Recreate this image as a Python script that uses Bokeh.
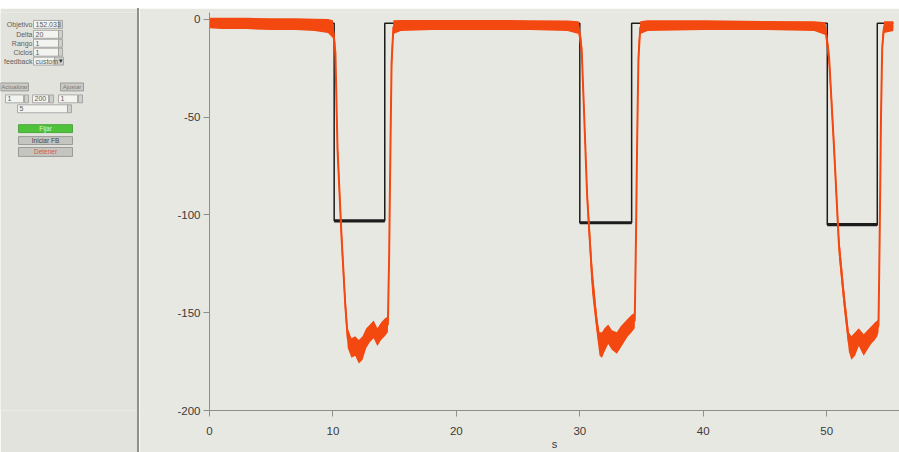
from bokeh.plotting import figure
from bokeh.layouts import row, column
from bokeh.models import Spacer, FixedTicker, Range1d, PrintfTickFormatter
from bokeh.embed import file_html
from bokeh.resources import INLINE
from bokeh.core.properties import value

# ---------------- data ----------------
# measured signal: time (s), upper and lower edge of the noisy trace
sig_t = [0.0, 1.0, 3.0, 5.0, 7.0, 8.5, 9.6, 10.0,
         10.2, 10.37, 10.7, 11.0, 11.2,
         11.5, 11.8, 12.1, 12.4, 12.7, 13.0, 13.3, 13.6, 13.9, 14.2, 14.45,
         14.55, 14.65, 14.75, 14.9,
         15.5, 18.0, 22.0, 26.0, 29.0, 29.9,
         30.15, 30.3, 30.6, 31.0, 31.4,
         31.6, 31.8, 32.0, 32.3, 32.6, 33.0, 33.3, 33.6, 33.9, 34.2, 34.45,
         34.55, 34.65, 34.75, 34.9,
         35.5, 40.0, 45.0, 49.0, 49.9,
         50.2, 50.6, 51.0, 51.4, 51.8,
         52.0, 52.3, 52.6, 53.0, 53.3, 53.6, 53.9, 54.1, 54.2,
         54.3, 54.4, 54.5, 54.65, 55.4]
sig_hi = [0.8, 0.8, 0.8, 0.6, 0.5, 0.3, 0.2, -0.5,
          -12, -60, -105, -140, -158,
          -163, -162, -164, -162, -158, -156, -154, -158, -155, -153, -152,
          -115, -60, -15, -0.5,
          -0.3, -0.3, -0.3, -0.4, -0.6, -1.0,
          -10, -35, -85, -125, -152,
          -160, -160, -158, -156, -159, -160, -157, -155, -153, -151, -150,
          -105, -50, -12, -1.0,
          -0.5, -0.5, -0.8, -1.0, -1.5,
          -15, -60, -110, -137, -160,
          -162, -160, -158, -161, -159, -157, -155, -154, -153,
          -100, -40, -8, -1.0, -1.0]
sig_lo = [-4.5, -5.0, -5.0, -5.5, -5.5, -6.0, -7.0, -9.5,
          -22, -72, -118, -152, -168,
          -173, -172, -176, -174, -168, -165, -163, -167, -164, -162, -160,
          -130, -80, -30, -7.5,
          -6.0, -5.5, -5.5, -5.5, -6.0, -7.5,
          -20, -45, -97, -140, -162,
          -172, -173, -170, -166, -169, -171, -168, -165, -162, -160, -158,
          -120, -70, -28, -7.5,
          -6.0, -5.5, -5.5, -6.0, -8.0,
          -25, -72, -122, -148, -170,
          -174, -172, -167, -172, -169, -166, -164, -162, -160,
          -115, -60, -20, -7.0, -6.0]

# set point (black step line)
sp_t = [0.0, 10.1, 10.1, 14.2, 14.2, 30.0, 30.0, 34.2, 34.2, 50.05, 50.05, 54.1, 54.1, 55.4]
sp_v = [-2, -2, -103, -103, -2, -2, -104, -104, -2, -2, -105, -105, -2, -2]

x_ticks = [0, 10, 20, 30, 40, 50]
y_ticks = [0, -50, -100, -150, -200]
x_label = "s"

# control panel texts
field_labels = ["Objetivo", "Delta", "Rango", "Ciclos", "feedback"]
field_values = ["152.033", "20", "1", "1", "custom"]
top_buttons = ["Actualizar", "Ajustar"]
row_inputs = ["1", "200", "1"]
extra_input = ["5"]
action_buttons = ["Fijar", "Iniciar FB", "Detener"]

# ---------------- styles ----------------
ORANGE = "#f3480f"
BLACK = "#1c1c1c"
PLOT_BG = "#e8e8e3"
PANEL_BG = "#e3e3de"
FONT = "Liberation Sans"

# ---------------- left control panel ----------------
# frame is aligned with the chart frame (page y 12 .. 413), so use page-y units
lp = figure(width=137, height=444, x_range=Range1d(0, 137), y_range=Range1d(413, 12),
            output_backend="svg", toolbar_location=None,
            min_border=0, background_fill_color=PANEL_BG, border_fill_color=PANEL_BG,
            outline_line_color=None)
lp.axis.visible = False
lp.grid.visible = False

fs = "7px"
row_y = [24, 34, 43, 52, 61]
lp.text(x=[32] * 5, y=row_y, text=field_labels, text_align="right", text_baseline="middle",
        text_font=value(FONT), text_font_size=fs, text_color="#606060")
box_l = [33, 33, 33, 33, 33]
box_r = [58, 58, 58, 58, 54]
box_r2 = [62, 62, 62, 62, 63]
lp.quad(left=box_l, right=box_r, top=[y - 4 for y in row_y], bottom=[y + 4 for y in row_y],
        fill_color="#f3f3f0", line_color="#9a9a9a", line_width=0.8)
lp.quad(left=box_r, right=box_r2, top=[y - 4 for y in row_y], bottom=[y + 4 for y in row_y],
        fill_color="#cfcfcb", line_color="#9a9a9a", line_width=0.8)
lp.text(x=[35] * 5, y=row_y, text=field_values, text_baseline="middle",
        text_font=value(FONT), text_font_size=fs, text_color="#606060")
lp.text(x=[58.5], y=[61], text=["\u25be"], text_baseline="middle",
        text_font=value("DejaVu Sans"), text_font_size="7px", text_color="#333333")

tb_l, tb_r = [0, 60], [28, 83]
lp.quad(left=tb_l, right=tb_r, top=[83, 83], bottom=[91, 91],
        fill_color="#c9c9c5", line_color="#8d8d8d", line_width=0.8)
lp.text(x=[(a + b) / 2 for a, b in zip(tb_l, tb_r)], y=[87, 87], text=top_buttons,
        text_align="center", text_baseline="middle", text_font=value(FONT),
        text_font_size="6px", text_color="#7a7a7a")

ri_l, ri_r = [5, 32, 58], [23, 48, 77]
lp.quad(left=ri_l, right=ri_r, top=[95] * 3, bottom=[103] * 3,
        fill_color="#f3f3f0", line_color="#9a9a9a", line_width=0.8)
lp.quad(left=[r + 1 for r in ri_r], right=[r + 5 for r in ri_r], top=[95] * 3, bottom=[103] * 3,
        fill_color="#cfcfcb", line_color="#9a9a9a", line_width=0.8)
lp.text(x=[l + 2 for l in ri_l], y=[99] * 3, text=row_inputs, text_baseline="middle",
        text_font=value(FONT), text_font_size=fs, text_color="#606060")
lp.quad(left=[17], right=[67], top=[105], bottom=[113],
        fill_color="#f3f3f0", line_color="#9a9a9a", line_width=0.8)
lp.quad(left=[67], right=[71], top=[105], bottom=[113],
        fill_color="#cfcfcb", line_color="#9a9a9a", line_width=0.8)
lp.text(x=[19], y=[109], text=extra_input, text_baseline="middle",
        text_font=value(FONT), text_font_size=fs, text_color="#606060")

ab_top = [125, 137, 148]
ab_bot = [133, 145, 157]
lp.quad(left=[18] * 3, right=[72] * 3, top=ab_top, bottom=ab_bot,
        fill_color=["#4ec23b", "#c4c4c0", "#c4c4c0"],
        line_color=["#3c9a2c", "#8d8d8d", "#8d8d8d"], line_width=0.8)
lp.text(x=[45] * 3, y=[(a + b) / 2 for a, b in zip(ab_top, ab_bot)], text=action_buttons,
        text_align="center", text_baseline="middle", text_font=value(FONT),
        text_font_size="6.5px", text_color=["#dff5d5", "#444444", "#d8583c"])

separator = Spacer(width=2, height=444, margin=0, styles={"background-color": "#8f8f8f"})

# ---------------- main chart ----------------
p = figure(width=760, height=444, x_range=Range1d(0, 55.9), y_range=Range1d(-200, 3.5),
           output_backend="svg", toolbar_location=None,
           min_border_left=70, min_border_right=0, min_border_top=4, min_border_bottom=39,
           background_fill_color=PLOT_BG, border_fill_color=PLOT_BG, outline_line_color=None)
p.grid.visible = False

for ax in (p.xaxis[0], p.yaxis[0]):
    ax.axis_line_color = "#8e8e8e"
    ax.major_tick_line_color = "#8e8e8e"
    ax.minor_tick_line_color = None
    ax.major_tick_out = 6
    ax.major_tick_in = 0
    ax.major_label_text_font = FONT
    ax.major_label_text_font_size = "11.5px"
    ax.major_label_text_color = "#3a3a3a"
    ax.formatter = PrintfTickFormatter(format="%d")
p.xaxis.ticker = FixedTicker(ticks=x_ticks)
p.yaxis.ticker = FixedTicker(ticks=y_ticks)
p.xaxis.major_label_standoff = 10
p.yaxis.major_label_standoff = 3
p.xaxis.axis_label = x_label
p.xaxis.axis_label_text_font = FONT
p.xaxis.axis_label_text_font_style = "normal"
p.xaxis.axis_label_text_font_size = "11px"
p.xaxis.axis_label_text_color = "#3a3a3a"
p.xaxis.axis_label_standoff = 0

# set point
p.line(sp_t, sp_v, line_color=BLACK, line_width=1.5)
low_x0, low_x1, low_y = [], [], []
for i in range(len(sp_t) - 1):
    if sp_v[i] == sp_v[i + 1] and sp_v[i] < -50:
        low_x0.append(sp_t[i]); low_x1.append(sp_t[i + 1]); low_y.append(sp_v[i])
p.segment(x0=low_x0, y0=low_y, x1=low_x1, y1=low_y, line_color=BLACK, line_width=3.2)

# measured signal
sig_mid = [(a + b) / 2 for a, b in zip(sig_hi, sig_lo)]
p.varea(x=sig_t, y1=sig_lo, y2=sig_hi, fill_color=ORANGE)
p.line(sig_t, sig_mid, line_color=ORANGE, line_width=2)

layout = column(Spacer(width=899, height=8, margin=0),
                row(lp, separator, p, margin=0), margin=0)

open("out.html", "w").write(file_html(layout, INLINE))
